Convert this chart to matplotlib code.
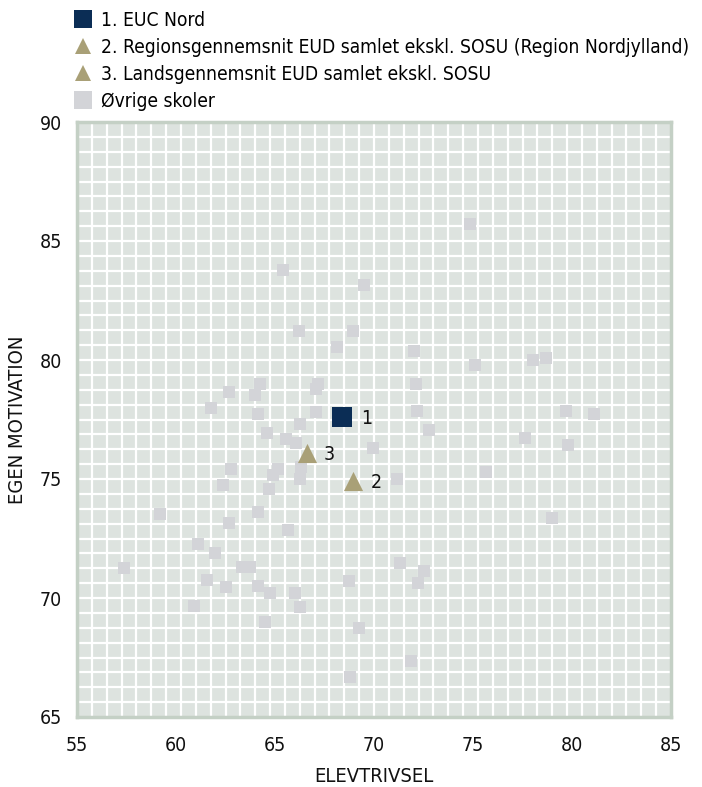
import numpy as np
import matplotlib
matplotlib.use("Agg")
import matplotlib.pyplot as plt
from matplotlib.lines import Line2D

# ── Data ─────────────────────────────────────────────────────────────────────
# Øvrige skoler (elevtrivsel, egen motivation)
other_x = [74.83, 65.40, 69.52, 66.23, 68.92, 68.14, 72.00, 75.12, 78.03, 78.68,
           64.26, 67.16, 67.08, 72.14, 62.67, 63.99, 61.77, 64.16, 67.06, 72.19,
           66.28, 72.78, 79.69, 81.10, 64.58, 77.63, 79.81, 65.57, 66.06, 69.95,
           62.79, 65.16, 64.92, 66.32, 75.68, 71.17, 66.28, 62.38, 64.70, 59.20,
           64.13, 62.69, 65.64, 78.97, 61.11, 61.98, 57.37, 63.35, 63.74, 71.31,
           72.50, 72.20, 68.72, 61.59, 62.50, 64.16, 64.74, 65.99, 66.28, 60.93,
           64.47, 69.24, 71.87, 68.79]
other_y = [85.70, 83.79, 83.14, 81.23, 81.22, 80.53, 80.36, 79.77, 80.00, 80.08,
           79.00, 79.00, 78.77, 79.00, 78.66, 78.55, 77.97, 77.74, 77.80, 77.87,
           77.31, 77.04, 77.87, 77.72, 76.92, 76.72, 76.42, 76.68, 76.50, 76.29,
           75.40, 75.43, 75.16, 75.51, 75.30, 75.00, 75.00, 74.75, 74.57, 73.55,
           73.60, 73.15, 72.84, 73.36, 72.26, 71.87, 71.27, 71.29, 71.29, 71.46,
           71.14, 70.62, 70.70, 70.75, 70.48, 70.52, 70.23, 70.23, 69.64, 69.67,
           68.98, 68.72, 67.36, 66.66]

euc_x, euc_y = [68.37], [77.62]                 # 1. EUC Nord
avg_x = [68.92, 66.62]                           # 2. region, 3. land
avg_y = [74.92, 76.10]
point_labels = ["1", "2", "3"]

legend_labels = ["1. EUC Nord",
                 "2. Regionsgennemsnit EUD samlet ekskl. SOSU (Region Nordjylland)",
                 "3. Landsgennemsnit EUD samlet ekskl. SOSU",
                 "Øvrige skoler"]

xticks = [55, 60, 65, 70, 75, 80, 85]
yticks = [65, 70, 75, 80, 85, 90]

# ── Colours ──────────────────────────────────────────────────────────────────
BG = "#dde3df"
FRAME = "#c4d0c5"
GREY = "#d3d4d8"
NAVY = "#0b2d55"
KHAKI = "#a9a077"

plt.rcParams["font.family"] = ["DejaVu Sans"]
plt.rcParams["font.stretch"] = "condensed"

fig = plt.figure(figsize=(7.02, 7.87), dpi=100)
ax = fig.add_axes([77 / 702, 1 - 717 / 787, 594 / 702, 595 / 787])
ax.set_facecolor(BG)
ax.set_xlim(55, 85)
ax.set_ylim(65, 90)

# fine white grid, 40 x 40 cells
for gx in np.linspace(55, 85, 41)[1:-1]:
    ax.axvline(gx, color="white", lw=1.6, zorder=1)
for gy in np.linspace(65, 90, 41)[1:-1]:
    ax.axhline(gy, color="white", lw=1.6, zorder=1)

for sp in ax.spines.values():
    sp.set_color(FRAME)
    sp.set_linewidth(2.5)

ax.scatter(other_x, other_y, marker="s", s=68, color=GREY, lw=0, zorder=3)
ax.scatter(euc_x, euc_y, marker="s", s=225, color=NAVY, lw=0, zorder=4)
ax.scatter(avg_x, avg_y, marker="^", s=190, color=KHAKI, lw=0, zorder=4)

pts = list(zip(euc_x + avg_x, euc_y + avg_y))
for (px, py), lab, dx in zip(pts, point_labels, [18, 17, 16]):
    ax.annotate(lab, (px, py), xytext=(dx, -1), textcoords="offset points",
                ha="center", va="center", fontsize=14, color="#111111", zorder=5)

ax.set_xticks(xticks)
ax.set_yticks(yticks)
ax.tick_params(length=0, labelsize=14, colors="#111111")
ax.tick_params(axis="x", pad=14)
ax.tick_params(axis="y", pad=11)
ax.set_xlabel("ELEVTRIVSEL", fontsize=14.5, labelpad=8, color="#111111")
ax.set_ylabel("EGEN MOTIVATION", fontsize=14.5, labelpad=9, color="#111111")

handles = [
    Line2D([], [], ls="", marker="s", ms=12.5, color=NAVY, mew=0),
    Line2D([], [], ls="", marker="^", ms=12, color=KHAKI, mew=0),
    Line2D([], [], ls="", marker="^", ms=12, color=KHAKI, mew=0),
    Line2D([], [], ls="", marker="s", ms=12.5, color=GREY, mew=0),
]
fig.legend(handles, legend_labels, loc="upper left",
           bbox_to_anchor=(75 / 702, 1 - 11 / 787), frameon=False,
           fontsize=13.8, handlelength=0.88, handletextpad=0.5,
           labelspacing=0.42, borderpad=0, borderaxespad=0)

fig.savefig("out.png", dpi=100)
